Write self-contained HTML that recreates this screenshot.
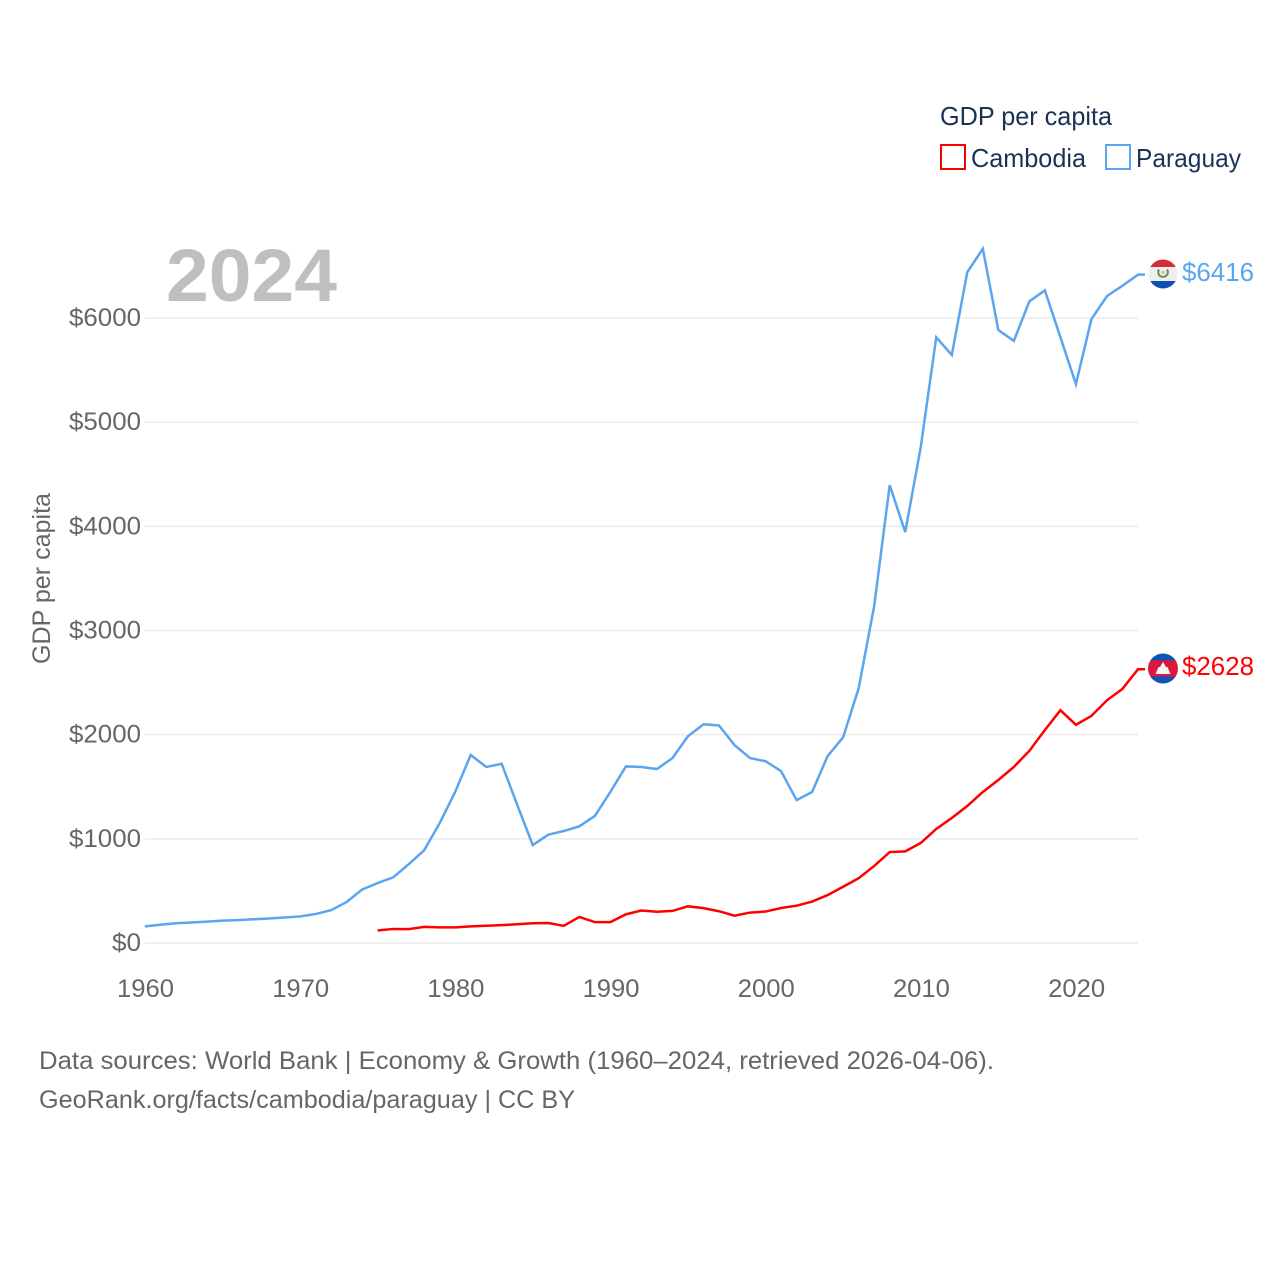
<!DOCTYPE html>
<html lang="en">
<head>
<meta charset="utf-8">
<title>GDP per capita: Cambodia and Paraguay</title>
<style>
html,body{margin:0;padding:0;background:#fff;width:1280px;height:1280px;overflow:hidden}
svg{display:block}
text{font-family:"Liberation Sans",sans-serif}
</style>
</head>
<body>
<svg id="chart" xmlns="http://www.w3.org/2000/svg" width="1280" height="1280" viewBox="0 0 1280 1280">
  <rect width="1280" height="1280" fill="#fff"/>
  <g id="grid"></g>
  <g id="yticks"></g>
  <g id="xticks"></g>
  <text x="166" y="301" font-size="74" font-weight="700" fill="#bfbfbf" textLength="171" lengthAdjust="spacingAndGlyphs">2024</text>
  <text transform="translate(50,664) rotate(-90)" font-size="25" fill="#666" textLength="171" lengthAdjust="spacingAndGlyphs">GDP per capita</text>
  <g id="series"></g>

  <g>
    <text x="940" y="125" font-size="26" fill="#1a3355" textLength="172" lengthAdjust="spacingAndGlyphs">GDP per capita</text>
    <g>
      <rect x="941" y="145" width="24" height="24" fill="#fff" stroke="#ff0000" stroke-width="2"/>
      <text x="971" y="167" font-size="26" fill="#1a3355" textLength="115" lengthAdjust="spacingAndGlyphs">Cambodia</text>
    </g>
    <g>
      <rect x="1106" y="145" width="24" height="24" fill="#fff" stroke="#5ba5ee" stroke-width="2"/>
      <text x="1136" y="167" font-size="26" fill="#1a3355" textLength="105" lengthAdjust="spacingAndGlyphs">Paraguay</text>
    </g>
  </g>

  <defs>
    <clipPath id="clip-py"><circle cx="1163" cy="274" r="14.5"/></clipPath>
    <clipPath id="clip-kh"><circle cx="1163" cy="668.5" r="15"/></clipPath>
  </defs>
  <g clip-path="url(#clip-py)">
    <rect x="1148" y="259" width="30" height="8" fill="#d52b3a"/>
    <rect x="1148" y="267" width="30" height="14" fill="#eeeeee"/>
    <rect x="1148" y="281" width="30" height="9" fill="#0f4fb0"/>
    <path d="M1159 269.500a4.800 4.800 0 1 0 8 0" fill="none" stroke="#6a9a50" stroke-width="2.200"/>
    <circle cx="1163" cy="272.500" r="1.500" fill="#eba9a0"/>
  </g>
  <g clip-path="url(#clip-kh)">
    <rect x="1147" y="653" width="32" height="7.500" fill="#0f55b4"/>
    <rect x="1147" y="660.500" width="32" height="16" fill="#e0173c"/>
    <rect x="1147" y="676.500" width="32" height="8" fill="#0f55b4"/>
    <path d="M1163 662l3 5h1.500l3 7h-15l3-7h1.500z" fill="#f4f4f4"/>
  </g>

  <text id="label-py" x="1182" y="281" font-size="26" fill="#5ba5ee" textLength="72" lengthAdjust="spacingAndGlyphs"></text>
  <text id="label-kh" x="1182" y="675" font-size="26" fill="#ff0000" textLength="72" lengthAdjust="spacingAndGlyphs"></text>

  <text x="39" y="1069" font-size="25" fill="#666" textLength="955" lengthAdjust="spacingAndGlyphs">Data sources: World Bank | Economy &amp; Growth (1960–2024, retrieved 2026-04-06).</text>
  <text x="39" y="1108" font-size="25" fill="#666" textLength="536" lengthAdjust="spacingAndGlyphs">GeoRank.org/facts/cambodia/paraguay | CC BY</text>
</svg>
<script>
const paraguayYears = [1960,1961,1962,1963,1964,1965,1966,1967,1968,1969,1970,1971,1972,1973,1974,1975,1976,1977,1978,1979,1980,1981,1982,1983,1984,1985,1986,1987,1988,1989,1990,1991,1992,1993,1994,1995,1996,1997,1998,1999,2000,2001,2002,2003,2004,2005,2006,2007,2008,2009,2010,2011,2012,2013,2014,2015,2016,2017,2018,2019,2020,2021,2022,2023,2024];
const paraguayValues = [160,175,190,197,205,215,220,228,235,245,255,278,315,393,513,575,630,755,890,1150,1450,1805,1690,1720,1325,940,1040,1075,1120,1220,1450,1695,1690,1670,1775,1985,2100,2088,1900,1775,1745,1650,1372,1450,1795,1975,2445,3235,4395,3945,4760,5815,5645,6440,6665,5885,5780,6160,6265,5815,5365,5990,6210,6310,6416];
const cambodiaYears = [1975,1976,1977,1978,1979,1980,1981,1982,1983,1984,1985,1986,1987,1988,1989,1990,1991,1992,1993,1994,1995,1996,1997,1998,1999,2000,2001,2002,2003,2004,2005,2006,2007,2008,2009,2010,2011,2012,2013,2014,2015,2016,2017,2018,2019,2020,2021,2022,2023,2024];
const cambodiaValues = [120,135,133,155,150,150,160,166,172,180,190,192,165,250,200,200,275,312,300,308,352,335,305,262,292,302,336,358,398,460,540,622,740,873,880,960,1095,1200,1315,1450,1565,1690,1845,2045,2235,2095,2180,2330,2440,2628];
const yTickValues = [0,1000,2000,3000,4000,5000,6000];
const yTickLabels = ["$0","$1000","$2000","$3000","$4000","$5000","$6000"];
const xTickValues = [1960,1970,1980,1990,2000,2010,2020];
const xTickLabels = ["1960","1970","1980","1990","2000","2010","2020"];

const NS = "http://www.w3.org/2000/svg";
function xScale(year){ return 144.8 + (year - 1960) * (1138 - 144.8) / 64; }
function yScale(value){ return 943 - value * 625 / 6000; }

const grid = document.getElementById('grid');
const yticks = document.getElementById('yticks');
const xticks = document.getElementById('xticks');
const series = document.getElementById('series');

yTickValues.forEach(function(v, i){
  const line = document.createElementNS(NS, 'line');
  
  
  line.setAttribute('x1', 145);
  line.setAttribute('x2', 1138);
  line.setAttribute('y1', yScale(v));
  line.setAttribute('y2', yScale(v));
  line.setAttribute('stroke', '#ececec');
  line.setAttribute('stroke-width', '1.5');
  grid.appendChild(line);

  const t = document.createElementNS(NS, 'text');
  
  
  t.setAttribute('x', 141);
  t.setAttribute('y', yScale(v) + 8);
  t.setAttribute('text-anchor', 'end');
  t.setAttribute('font-size', '25');
  t.setAttribute('fill', '#666');
  t.setAttribute('textLength', yTickLabels[i].length === 2 ? 29 : 72);
  t.setAttribute('lengthAdjust', 'spacingAndGlyphs');
  t.textContent = yTickLabels[i];
  yticks.appendChild(t);
});

xTickValues.forEach(function(v, i){
  const t = document.createElementNS(NS, 'text');
  
  
  t.setAttribute('x', xScale(v) + 0.7);
  t.setAttribute('y', 997);
  t.setAttribute('text-anchor', 'middle');
  t.setAttribute('font-size', '25');
  t.setAttribute('fill', '#666');
  t.setAttribute('textLength', 57);
  t.setAttribute('lengthAdjust', 'spacingAndGlyphs');
  t.textContent = xTickLabels[i];
  xticks.appendChild(t);
});

function pathFrom(years, values){
  let d = years.map(function(y, i){
    return (i ? 'L' : 'M') + xScale(y).toFixed(2) + ' ' + yScale(values[i]).toFixed(2);
  }).join('');
  d += 'H' + (xScale(years[years.length - 1]) + 7);
  return d;
}

const lineKh = document.createElementNS(NS, 'path');


lineKh.setAttribute('d', pathFrom(cambodiaYears, cambodiaValues));
lineKh.setAttribute('fill', 'none');
lineKh.setAttribute('stroke', '#ff0000');
lineKh.setAttribute('stroke-width', '2.5');
series.appendChild(lineKh);

const linePy = document.createElementNS(NS, 'path');


linePy.setAttribute('d', pathFrom(paraguayYears, paraguayValues));
linePy.setAttribute('fill', 'none');
linePy.setAttribute('stroke', '#5ba5ee');
linePy.setAttribute('stroke-width', '2.5');
series.appendChild(linePy);

document.getElementById('label-py').textContent = '$' + paraguayValues[paraguayValues.length - 1];
document.getElementById('label-kh').textContent = '$' + cambodiaValues[cambodiaValues.length - 1];
</script>
</body>
</html>
